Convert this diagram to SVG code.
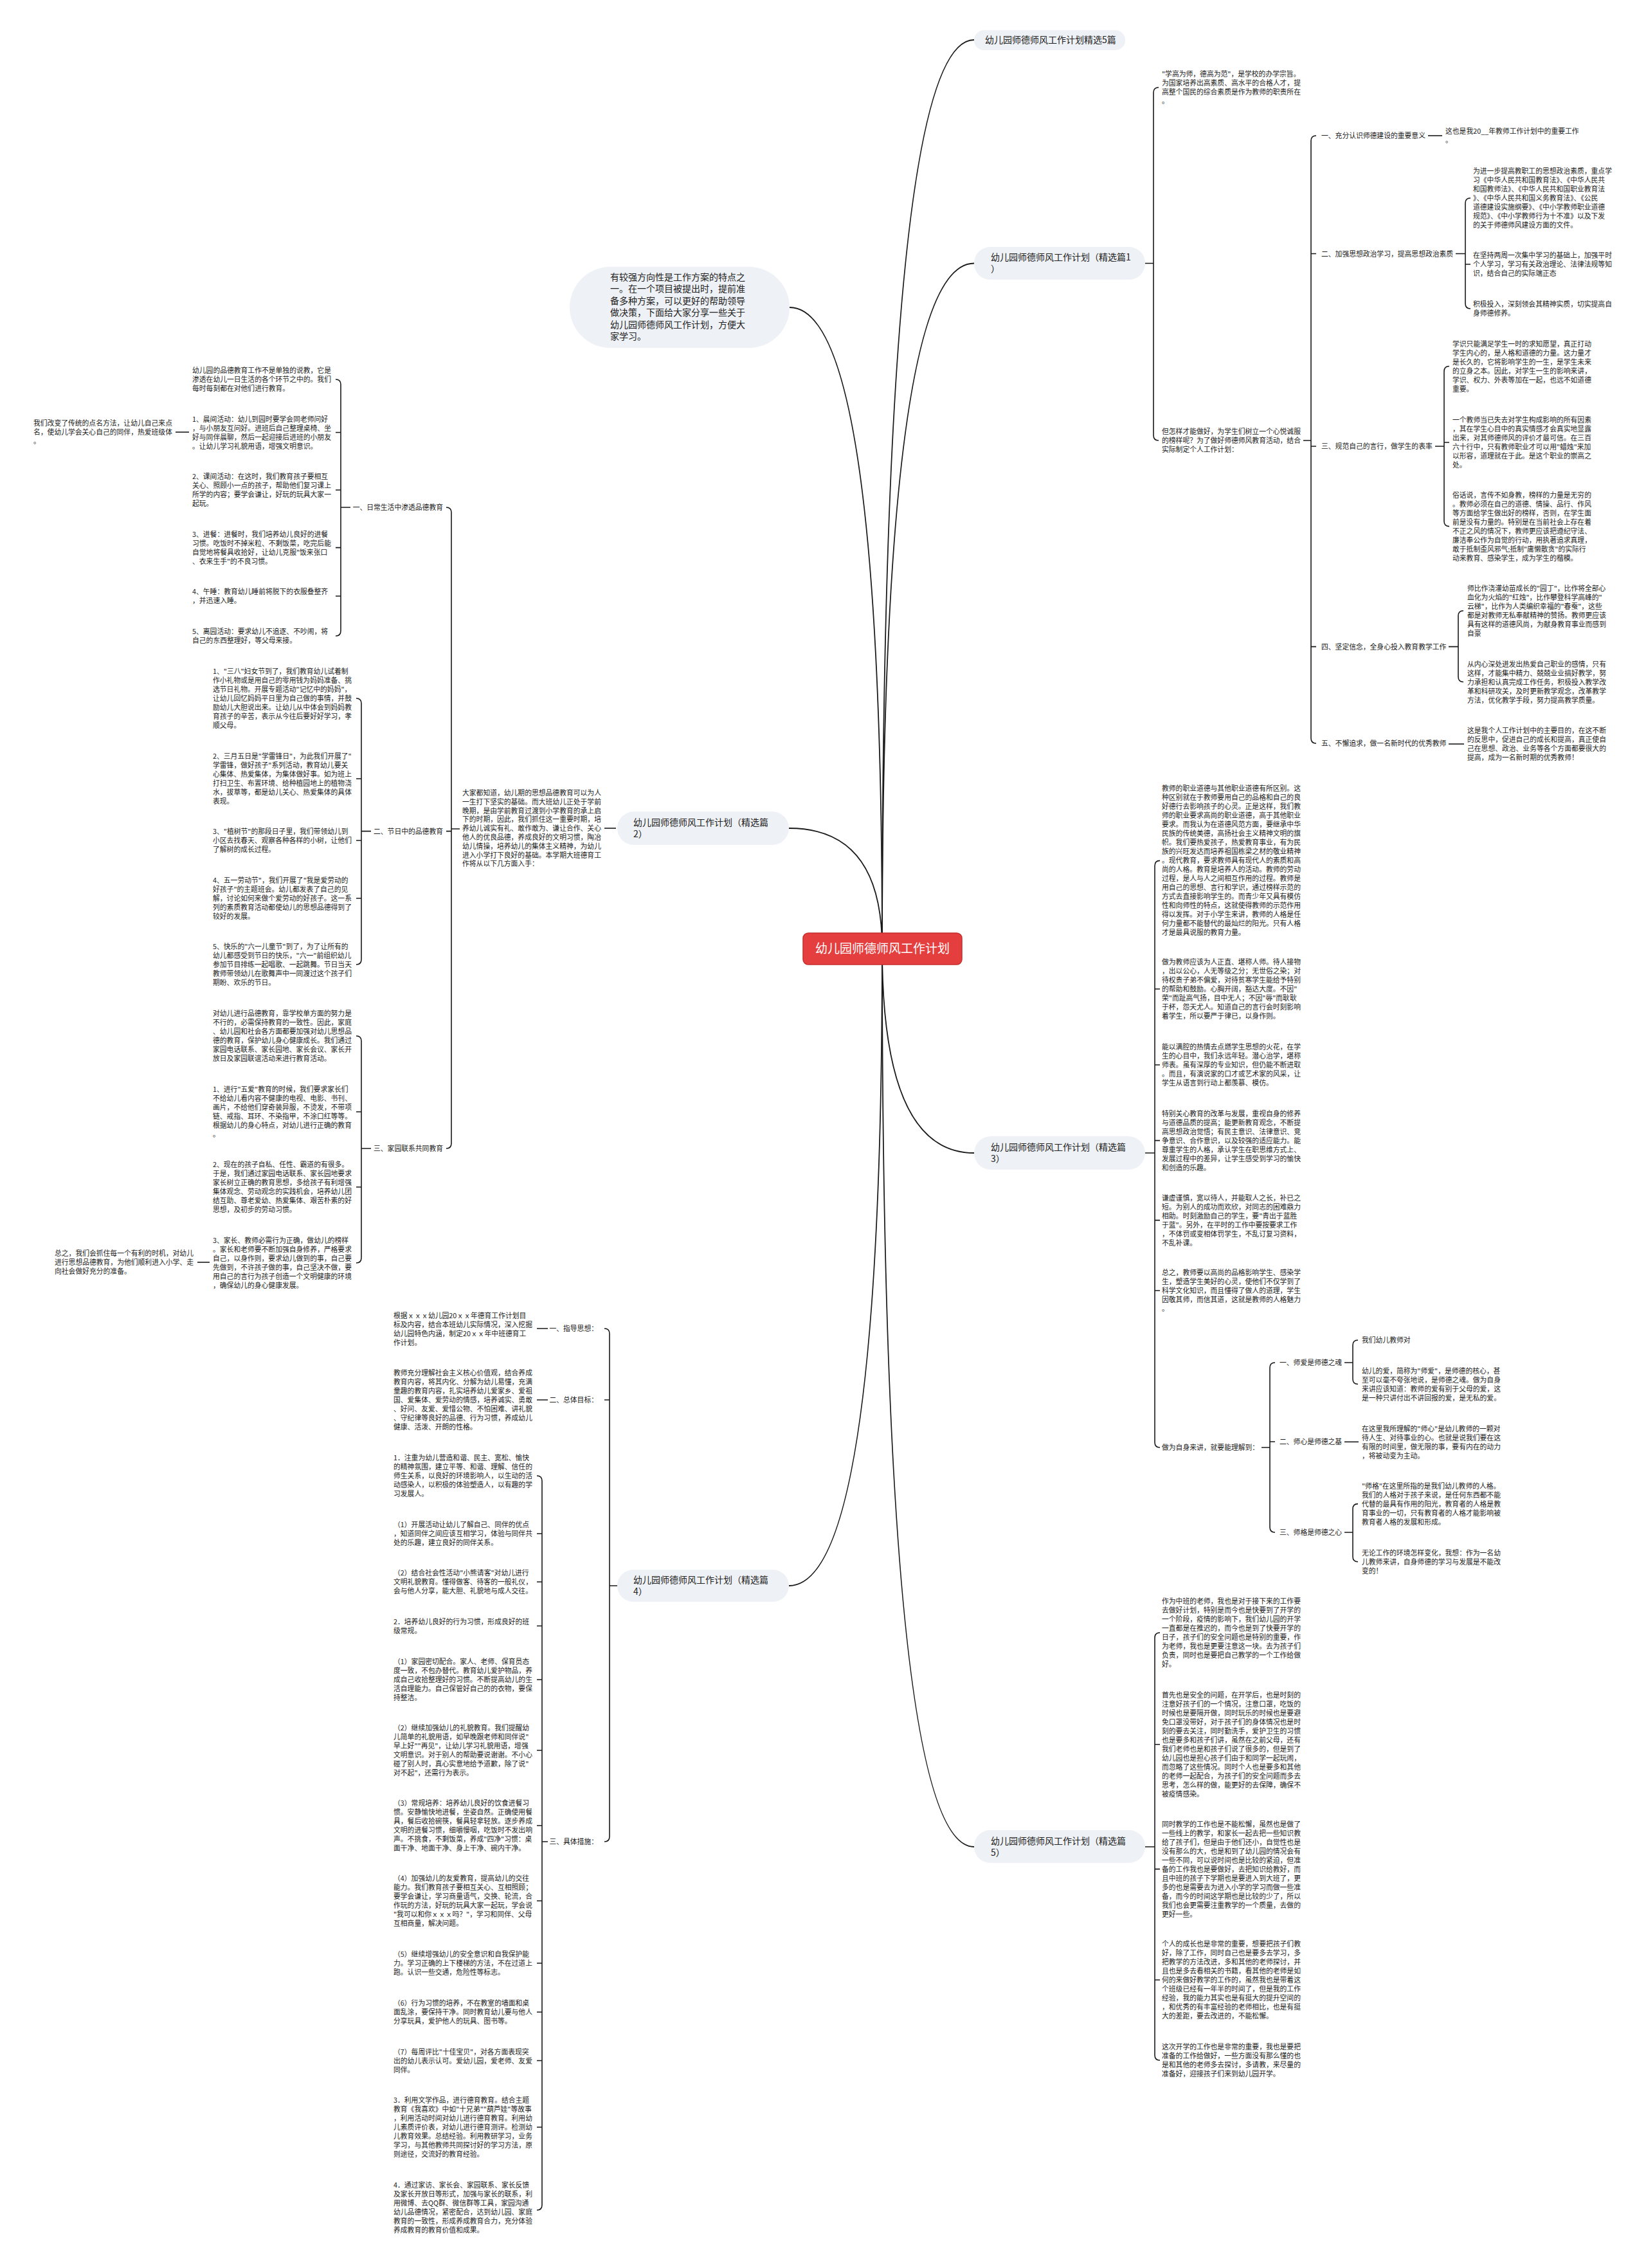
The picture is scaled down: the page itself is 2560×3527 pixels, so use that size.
<svg xmlns="http://www.w3.org/2000/svg" width="2560" height="3527" viewBox="0 0 2560 3527">
<style>
.t{font-family:"Noto Sans CJK SC","Noto Sans",sans-serif;font-size:10.8px;fill:#222}
.n{font-family:"Noto Sans CJK SC","Noto Sans",sans-serif;font-size:14px;fill:#222}
.r{font-family:"Noto Sans CJK SC","Noto Sans",sans-serif;font-size:19px;fill:#fff}
.ln{fill:none;stroke:#1a1a1a;stroke-width:1.6}
.cv{fill:none;stroke:#1a1a1a;stroke-width:1.8}
.bub{fill:#EEF1F5}
</style>
<rect width="2560" height="3527" fill="#fff"/>
<g id="connectors">
<path class="cv" d="M1372,1475 Q1372,62 1515,62"/>
<path class="cv" d="M1372,1475 Q1372,409.5 1515,409.5"/>
<path class="cv" d="M1372,1475 Q1372,1793 1515,1793"/>
<path class="cv" d="M1372,1475 Q1372,2872 1515,2872"/>
<path class="cv" d="M1372,1475 Q1372,478 1228,478"/>
<path class="cv" d="M1372,1475 Q1372,1288 1227,1288"/>
<path class="cv" d="M1372,1475 Q1372,2466 1227,2466"/>
<path class="ln" d="M1802,136 Q1794,136 1794,144 L1794,677 Q1794,685 1802,685 M1781,409.5 L1794,409.5"/>
<path class="ln" d="M2047,211 Q2039,211 2039,219 L2039,1148 Q2039,1156 2047,1156 M2039,394.5 L2047,394.5 M2039,694 L2047,694 M2039,1005.6 L2047,1005.6 M2027,685 L2039,685"/>
<path class="ln" d="M2221,211 L2243,211"/>
<path class="ln" d="M2287,308 Q2279,308 2279,316 L2279,472 Q2279,480 2287,480 M2279,411 L2287,411 M2264,394.5 L2279,394.5"/>
<path class="ln" d="M2254,569.5 Q2246,569.5 2246,577.5 L2246,810.6 Q2246,818.6 2254,818.6 M2246,688 L2254,688 M2232,694 L2246,694"/>
<path class="ln" d="M2276,949.7 Q2268,949.7 2268,957.7 L2268,1052.5 Q2268,1060.5 2276,1060.5 M2253,1005.6 L2268,1005.6"/>
<path class="ln" d="M2253,1157 L2277,1157"/>
<path class="ln" d="M1804,1338.4 Q1796,1338.4 1796,1346.4 L1796,2243 Q1796,2251 1804,2251 M1796,1538 L1804,1538 M1796,1656 L1804,1656 M1796,1773.6 L1804,1773.6 M1796,1897.6 L1804,1897.6 M1796,2007 L1804,2007 M1781,1793 L1796,1793"/>
<path class="ln" d="M1983,2119 Q1975,2119 1975,2127 L1975,2375 Q1975,2383 1983,2383 M1975,2242 L1983,2242 M1962,2251 L1975,2251"/>
<path class="ln" d="M2112,2084 Q2104,2084 2104,2092 L2104,2144.5 Q2104,2152.5 2112,2152.5 M2091,2119 L2104,2119"/>
<path class="ln" d="M2091,2242.3 L2113,2242.3"/>
<path class="ln" d="M2112,2338.6 Q2104,2338.6 2104,2346.6 L2104,2420.8 Q2104,2428.8 2112,2428.8 M2091,2383 L2104,2383"/>
<path class="ln" d="M1804,2539 Q1796,2539 1796,2547 L1796,3196 Q1796,3204 1804,3204 M1796,2712.7 L1804,2712.7 M1796,2906.6 L1804,2906.6 M1796,3079 L1804,3079 M1781,2872 L1796,2872"/>
<path class="ln" d="M958,1288 L940,1288"/>
<path class="ln" d="M694,789 Q702,789 702,797 L702,1778 Q702,1786 694,1786 M702,1292.6 L694,1292.6 M715,1289 L702,1289"/>
<path class="ln" d="M522,590 Q530,590 530,598 L530,981 Q530,989 522,989 M530,672.5 L522,672.5 M530,762 L522,762 M530,851.6 L522,851.6 M530,927 L522,927 M545,789 L530,789"/>
<path class="ln" d="M294,672 L273,672"/>
<path class="ln" d="M554,1086 Q562,1086 562,1094 L562,1492 Q562,1500 554,1500 M562,1211 L554,1211 M562,1307 L554,1307 M562,1397 L554,1397 M577,1292.6 L562,1292.6"/>
<path class="ln" d="M554,1611 Q562,1611 562,1619 L562,1956 Q562,1964 554,1964 M562,1729 L554,1729 M562,1846 L554,1846 M577,1786 L562,1786"/>
<path class="ln" d="M326,1963 L307,1963"/>
<path class="ln" d="M940,2066 Q948,2066 948,2074 L948,2856 Q948,2864 940,2864 M948,2177 L940,2177 M960,2466 L948,2466"/>
<path class="ln" d="M852,2066 L835,2066 M852,2177 L835,2177"/>
<path class="ln" d="M835,2295 Q843,2295 843,2303 L843,3429 Q843,3437 835,3437 M843,2385 L835,2385 M843,2460 L835,2460 M843,2528.5 L835,2528.5 M843,2612 L835,2612 M843,2722 L835,2722 M843,2839 L835,2839 M843,2956 L835,2956 M843,3053 L835,3053 M843,3129 L835,3129 M843,3204.5 L835,3204.5 M843,3308 L835,3308 M852,2864 L843,2864"/>
</g>
<g id="root">
<rect x="1249" y="1451" width="247" height="49" rx="8" fill="#E53E3E" stroke="#C62E2E" stroke-width="1.5"/>
<text class="r" x="1372.5" y="1482" text-anchor="middle">幼儿园师德师风工作计划</text>
</g>
<g id="intro">
<rect class="bub" x="886" y="415" width="342" height="126" rx="63"/>
<text class="n"><tspan x="949" y="436">有较强方向性是工作方案的特点之</tspan><tspan x="949" dy="18.4">一。在一个项目被提出时，提前准</tspan><tspan x="949" dy="18.4">备多种方案，可以更好的帮助领导</tspan><tspan x="949" dy="18.4">做决策，下面给大家分享一些关于</tspan><tspan x="949" dy="18.4">幼儿园师德师风工作计划，方便大</tspan><tspan x="949" dy="18.4">家学习。</tspan></text>
</g>
<g id="n-5p">
<rect class="bub" x="1515" y="47" width="235" height="31" rx="15"/>
<text class="n" x="1532" y="67">幼儿园师德师风工作计划精选5篇</text>
</g>
<g id="n-p1">
<rect class="bub" x="1515" y="384" width="266" height="51" rx="25"/>
<text class="n"><tspan x="1541" y="405">幼儿园师德师风工作计划（精选篇1</tspan><tspan x="1541" dy="18">）</tspan></text>
</g>
<g id="p1-children">
<text class="t"><tspan x="1807" y="119">"学高为师，德高为范"，是学校的办学宗旨。</tspan><tspan x="1807" dy="14">为国家培养出高素质、高水平的合格人才，提</tspan><tspan x="1807" dy="14">高整个国民的综合素质是作为教师的职责所在</tspan><tspan x="1807" dy="14">。</tspan></text>
<text class="t"><tspan x="1807" y="675">但怎样才能做好，为学生们树立一个心悦诚服</tspan><tspan x="1807" dy="14">的榜样呢？为了做好师德师风教育活动，结合</tspan><tspan x="1807" dy="14">实际制定个人工作计划：</tspan></text>
<text class="t" x="2055" y="215">一、充分认识师德建设的重要意义</text>
<text class="t" x="2055" y="399">二、加强思想政治学习，提高思想政治素质</text>
<text class="t" x="2055" y="698">三、规范自己的言行，做学生的表率</text>
<text class="t" x="2055" y="1010">四、坚定信念，全身心投入教育教学工作</text>
<text class="t" x="2055" y="1160">五、不懈追求，做一名新时代的优秀教师</text>
<text class="t"><tspan x="2248" y="208">这也是我20__年教师工作计划中的重要工作</tspan><tspan x="2248" dy="14">。</tspan></text>
<text class="t"><tspan x="2291" y="270">为进一步提高教职工的思想政治素质，重点学</tspan><tspan x="2291" dy="14">习《中华人民共和国教育法》、《中华人民共</tspan><tspan x="2291" dy="14">和国教师法》、《中华人民共和国职业教育法</tspan><tspan x="2291" dy="14">》、《中华人民共和国义务教育法》、《公民</tspan><tspan x="2291" dy="14">道德建设实施纲要》、《中小学教师职业道德</tspan><tspan x="2291" dy="14">规范》、《中小学教师行为十不准》以及下发</tspan><tspan x="2291" dy="14">的关于师德师风建设方面的文件。</tspan></text>
<text class="t"><tspan x="2291" y="401">在坚持两周一次集中学习的基础上，加强平时</tspan><tspan x="2291" dy="14">个人学习，学习有关政治理论、法律法规等知</tspan><tspan x="2291" dy="14">识，结合自己的实际端正态</tspan></text>
<text class="t"><tspan x="2291" y="477">积极投入，深刻领会其精神实质，切实提高自</tspan><tspan x="2291" dy="14">身师德修养。</tspan></text>
<text class="t"><tspan x="2259" y="538.5">学识只能满足学生一时的求知愿望，真正打动</tspan><tspan x="2259" dy="14">学生内心的，是人格和道德的力量。这力量才</tspan><tspan x="2259" dy="14">是长久的，它将影响学生的一生，是学生未来</tspan><tspan x="2259" dy="14">的立身之本。因此，对学生一生的影响来讲，</tspan><tspan x="2259" dy="14">学识、权力、外表等加在一起，也远不如道德</tspan><tspan x="2259" dy="14">重要。</tspan></text>
<text class="t"><tspan x="2259" y="657">一个教师当已失去对学生构成影响的所有因素</tspan><tspan x="2259" dy="14">，其在学生心目中的真实情感才会真实地显露</tspan><tspan x="2259" dy="14">出来，对其师德师风的评价才最可信。在三百</tspan><tspan x="2259" dy="14">六十行中，只有教师职业才可以用"蜡烛"来加</tspan><tspan x="2259" dy="14">以形容，道理就在于此。是这个职业的崇高之</tspan><tspan x="2259" dy="14">处。</tspan></text>
<text class="t"><tspan x="2259" y="773.6">俗话说，言传不如身教，榜样的力量是无穷的</tspan><tspan x="2259" dy="14">。教师必须在自己的道德、情操、品行、作风</tspan><tspan x="2259" dy="14">等方面给学生做出好的榜样，否则，在学生面</tspan><tspan x="2259" dy="14">前是没有力量的。特别是在当前社会上存在着</tspan><tspan x="2259" dy="14">不正之风的情况下，教师更应该把遵纪守法、</tspan><tspan x="2259" dy="14">廉洁奉公作为自觉的行动，用执著追求真理，</tspan><tspan x="2259" dy="14">敢于抵制歪风邪气;抵制"庸懒散贪"的实际行</tspan><tspan x="2259" dy="14">动来教育、感染学生，成为学生的楷模。</tspan></text>
<text class="t"><tspan x="2282" y="918.7">师比作浇灌幼苗成长的"园丁"，比作将全部心</tspan><tspan x="2282" dy="14">血化为火焰的"红烛"，比作攀登科学高峰的"</tspan><tspan x="2282" dy="14">云梯"，比作为人类编织幸福的"春蚕"，这些</tspan><tspan x="2282" dy="14">都是对教师无私奉献精神的赞扬。教师更应该</tspan><tspan x="2282" dy="14">具有这样的道德风尚，为献身教育事业而感到</tspan><tspan x="2282" dy="14">自豪</tspan></text>
<text class="t"><tspan x="2282" y="1036.5">从内心深处迸发出热爱自己职业的感情，只有</tspan><tspan x="2282" dy="14">这样，才能集中精力、兢兢业业搞好教学，努</tspan><tspan x="2282" dy="14">力承担和认真完成工作任务，积极投入教学改</tspan><tspan x="2282" dy="14">革和科研攻关，及时更新教学观念，改革教学</tspan><tspan x="2282" dy="14">方法，优化教学手段，努力提高教学质量。</tspan></text>
<text class="t"><tspan x="2282" y="1140">这是我个人工作计划中的主要目的，在这不断</tspan><tspan x="2282" dy="14">的反思中，促进自己的成长和提高，真正使自</tspan><tspan x="2282" dy="14">己在思想、政治、业务等各个方面都要很大的</tspan><tspan x="2282" dy="14">提高，成为一名新时期的优秀教师！</tspan></text>
</g>
<g id="n-p3">
<rect class="bub" x="1515" y="1767" width="266" height="52" rx="26"/>
<text class="n"><tspan x="1541" y="1789">幼儿园师德师风工作计划（精选篇</tspan><tspan x="1541" dy="18">3）</tspan></text>
</g>
<g id="p3-children">
<text class="t"><tspan x="1807" y="1230.4">教师的职业道德与其他职业道德有所区别。这</tspan><tspan x="1807" dy="14">种区别就在于教师要用自己的品格和自己的良</tspan><tspan x="1807" dy="14">好德行去影响孩子的心灵。正是这样，我们教</tspan><tspan x="1807" dy="14">师的职业要求高尚的职业道德，高于其他职业</tspan><tspan x="1807" dy="14">要求。而我认为在道德风范方面，要继承中华</tspan><tspan x="1807" dy="14">民族的传统美德，高扬社会主义精神文明的旗</tspan><tspan x="1807" dy="14">帜。我们要热爱孩子，热爱教育事业，有为民</tspan><tspan x="1807" dy="14">族的兴旺发达而培养祖国栋梁之材的敬业精神</tspan><tspan x="1807" dy="14">。现代教育，要求教师具有现代人的素质和高</tspan><tspan x="1807" dy="14">尚的人格。教育是培养人的活动。教师的劳动</tspan><tspan x="1807" dy="14">过程，是人与人之间相互作用的过程。教师是</tspan><tspan x="1807" dy="14">用自己的思想、言行和学识，通过榜样示范的</tspan><tspan x="1807" dy="14">方式去直接影响学生的。而青少年又具有模仿</tspan><tspan x="1807" dy="14">性和向师性的特点，这就使得教师的示范作用</tspan><tspan x="1807" dy="14">得以发挥。对于小学生来讲，教师的人格是任</tspan><tspan x="1807" dy="14">何力量都不能替代的最灿烂的阳光。只有人格</tspan><tspan x="1807" dy="14">才是最具说服的教育力量。</tspan></text>
<text class="t"><tspan x="1807" y="1500">做为教师应该为人正直、堪称人师。待人接物</tspan><tspan x="1807" dy="14">，出以公心，人无等级之分；无世俗之染；对</tspan><tspan x="1807" dy="14">待权贵子弟不偏爱，对待贫寒学生能给予特别</tspan><tspan x="1807" dy="14">的帮助和鼓励。心胸开阔，豁达大度。不因"</tspan><tspan x="1807" dy="14">荣"而趾高气扬，目中无人；不因"辱"而耿耿</tspan><tspan x="1807" dy="14">于杯，怨天尤人。知道自己的言行会时刻影响</tspan><tspan x="1807" dy="14">着学生，所以要严于律已，以身作则。</tspan></text>
<text class="t"><tspan x="1807" y="1632">能以满腔的热情去点燃学生思想的火花，在学</tspan><tspan x="1807" dy="14">生的心目中，我们永远年轻。潜心治学，堪称</tspan><tspan x="1807" dy="14">师表。虽有深厚的专业知识，但仍能不断进取</tspan><tspan x="1807" dy="14">。而且，有演说家的口才或艺术家的风采，让</tspan><tspan x="1807" dy="14">学生从语言到行动上都羡慕、模仿。</tspan></text>
<text class="t"><tspan x="1807" y="1735.6">特别关心教育的改革与发展，重视自身的修养</tspan><tspan x="1807" dy="14">与道德品质的提高；能更新教育观念，不断提</tspan><tspan x="1807" dy="14">高思想政治觉悟；有民主意识、法律意识、竞</tspan><tspan x="1807" dy="14">争意识、合作意识，以及较强的适应能力。能</tspan><tspan x="1807" dy="14">尊重学生的人格，承认学生在职思维方式上、</tspan><tspan x="1807" dy="14">发展过程中的差异，让学生感受到学习的愉快</tspan><tspan x="1807" dy="14">和创造的乐趣。</tspan></text>
<text class="t"><tspan x="1807" y="1866.6">谦虚谨慎，宽以待人，并能取人之长，补已之</tspan><tspan x="1807" dy="14">短。为别人的成功而欢欣，对同志的困难鼎力</tspan><tspan x="1807" dy="14">相助。时刻激励自己的学生，要"青出于蓝胜</tspan><tspan x="1807" dy="14">于蓝"。另外，在平时的工作中要按要求工作</tspan><tspan x="1807" dy="14">，不体罚或变相体罚学生，不乱订复习资料，</tspan><tspan x="1807" dy="14">不乱补课。</tspan></text>
<text class="t"><tspan x="1807" y="1983">总之，教师要以高尚的品格影响学生、感染学</tspan><tspan x="1807" dy="14">生，塑造学生美好的心灵，使他们不仅学到了</tspan><tspan x="1807" dy="14">科学文化知识，而且懂得了做人的道理，学生</tspan><tspan x="1807" dy="14">因敬其师，而信其道，这就是教师的人格魅力</tspan><tspan x="1807" dy="14">。</tspan></text>
<text class="t" x="1807" y="2255">做为自身来讲，就要能理解到：</text>
<text class="t" x="1990" y="2123">一、师爱是师德之魂</text>
<text class="t" x="1990" y="2246">二、师心是师德之基</text>
<text class="t" x="1990" y="2387">三、师格是师德之心</text>
<text class="t" x="2118" y="2088">我们幼儿教师对</text>
<text class="t"><tspan x="2118" y="2135.5">幼儿的爱，简称为"师爱"，是师德的核心，甚</tspan><tspan x="2118" dy="14">至可以毫不夸张地说，是师德之魂。做为自身</tspan><tspan x="2118" dy="14">来讲应该知道：教师的爱有别于父母的爱，这</tspan><tspan x="2118" dy="14">是一种只讲付出不讲回报的爱，是无私的爱。</tspan></text>
<text class="t"><tspan x="2118" y="2225.6">在这里我所理解的"师心"是幼儿教师的一颗对</tspan><tspan x="2118" dy="14">待人生、对待事业的心。也就是说我们要在这</tspan><tspan x="2118" dy="14">有限的时间里，做无限的事，要有内在的动力</tspan><tspan x="2118" dy="14">，将被动变为主动。</tspan></text>
<text class="t"><tspan x="2118" y="2314.6">"师格"在这里所指的是我们幼儿教师的人格。</tspan><tspan x="2118" dy="14">我们的人格对于孩子来说，是任何东西都不能</tspan><tspan x="2118" dy="14">代替的最具有作用的阳光，教育者的人格是教</tspan><tspan x="2118" dy="14">育事业的一切，只有教育者的人格才能影响被</tspan><tspan x="2118" dy="14">教育者人格的发展和形成。</tspan></text>
<text class="t"><tspan x="2118" y="2418.8">无论工作的环境怎样变化，我想：作为一名幼</tspan><tspan x="2118" dy="14">儿教师来讲，自身师德的学习与发展是不能改</tspan><tspan x="2118" dy="14">变的！</tspan></text>
</g>
<g id="n-p5">
<rect class="bub" x="1515" y="2846" width="266" height="51" rx="25"/>
<text class="n"><tspan x="1541" y="2868">幼儿园师德师风工作计划（精选篇</tspan><tspan x="1541" dy="18">5）</tspan></text>
</g>
<g id="p5-children">
<text class="t"><tspan x="1807" y="2494">作为中班的老师，我也是对于接下来的工作要</tspan><tspan x="1807" dy="14">去做好计划，特别是而今也是快要到了开学的</tspan><tspan x="1807" dy="14">一个阶段，疫情的影响下，我们幼儿园的开学</tspan><tspan x="1807" dy="14">一直都是在推迟的，而今也是到了快要开学的</tspan><tspan x="1807" dy="14">日子，孩子们的安全问题也是特别的重要，作</tspan><tspan x="1807" dy="14">为老师，我也是更要注意这一块。去为孩子们</tspan><tspan x="1807" dy="14">负责，同时也是要把自己教学的一个工作给做</tspan><tspan x="1807" dy="14">好。</tspan></text>
<text class="t"><tspan x="1807" y="2639.7">首先也是安全的问题，在开学后，也是时刻的</tspan><tspan x="1807" dy="14">注意好孩子们的一个情况，注意口罩，吃饭的</tspan><tspan x="1807" dy="14">时候也是要隔开做，同时玩乐的时候也是要避</tspan><tspan x="1807" dy="14">免口罩没带好，对于孩子们的身体情况也是时</tspan><tspan x="1807" dy="14">刻的要去关注，同时勤洗手，爱护卫生的习惯</tspan><tspan x="1807" dy="14">也是要多和孩子们讲，虽然在之前父母，还有</tspan><tspan x="1807" dy="14">我们老师也是和孩子们说了很多的，但是到了</tspan><tspan x="1807" dy="14">幼儿园也是担心孩子们由于和同学一起玩闹，</tspan><tspan x="1807" dy="14">而忽略了这些情况。同时个人也是要多和其他</tspan><tspan x="1807" dy="14">的老师一起配合，为孩子们的安全问题而多去</tspan><tspan x="1807" dy="14">思考，怎么样的做，能更好的去保障，确保不</tspan><tspan x="1807" dy="14">被疫情感染。</tspan></text>
<text class="t"><tspan x="1807" y="2840.6">同时教学的工作也是不能松懈，虽然也是做了</tspan><tspan x="1807" dy="14">一些线上的教学，和家长一起去把一些知识教</tspan><tspan x="1807" dy="14">给了孩子们，但是由于他们还小，自觉性也是</tspan><tspan x="1807" dy="14">没有那么的大，也是和到了幼儿园的情况会有</tspan><tspan x="1807" dy="14">一些不同，可以说时间也是比较的紧迫，但准</tspan><tspan x="1807" dy="14">备的工作我也是要做好，去把知识给教好，而</tspan><tspan x="1807" dy="14">且中班的孩子下学期也是要进入到大班了，更</tspan><tspan x="1807" dy="14">多的也是需要去为进入小学的学习而做一些准</tspan><tspan x="1807" dy="14">备，而今的时间这学期也是比较的少了，所以</tspan><tspan x="1807" dy="14">我们也会更需要注重教学的一个质量，去做的</tspan><tspan x="1807" dy="14">更好一些。</tspan></text>
<text class="t"><tspan x="1807" y="3027">个人的成长也是非常的重要，想要把孩子们教</tspan><tspan x="1807" dy="14">好，除了工作，同时自己也是要多去学习，多</tspan><tspan x="1807" dy="14">把教学的方法改进，多和其他的老师探讨，并</tspan><tspan x="1807" dy="14">且也是多去看相关的书籍，看其他的老师是如</tspan><tspan x="1807" dy="14">何的来做好教学的工作的，虽然我也是带着这</tspan><tspan x="1807" dy="14">个班级已经有一年半的时间了，但是我的工作</tspan><tspan x="1807" dy="14">经验，我的能力其实也是有挺大的提升空间的</tspan><tspan x="1807" dy="14">，和优秀的有丰富经验的老师相比，也是有挺</tspan><tspan x="1807" dy="14">大的差距，要去改进的，不能松懈。</tspan></text>
<text class="t"><tspan x="1807" y="3187">这次开学的工作也是非常的重要，我也是要把</tspan><tspan x="1807" dy="14">准备的工作给做好，一些方面没有那么懂的也</tspan><tspan x="1807" dy="14">是和其他的老师多去探讨，多请教，来尽量的</tspan><tspan x="1807" dy="14">准备好，迎接孩子们来到幼儿园开学。</tspan></text>
</g>
<g id="n-p2">
<rect class="bub" x="960" y="1262" width="267" height="52" rx="26"/>
<text class="n"><tspan x="985" y="1284">幼儿园师德师风工作计划（精选篇</tspan><tspan x="985" dy="18">2）</tspan></text>
</g>
<g id="p2-children">
<text class="t"><tspan x="719" y="1237">大家都知道，幼儿期的思想品德教育可以为人</tspan><tspan x="719" dy="13.8">一生打下坚实的基础。而大班幼儿正处于学前</tspan><tspan x="719" dy="13.8">晚期，是由学前教育过渡到小学教育的承上启</tspan><tspan x="719" dy="13.8">下的时期，因此，我们抓住这一重要时期，培</tspan><tspan x="719" dy="13.8">养幼儿诚实有礼、敢作敢为、谦让合作、关心</tspan><tspan x="719" dy="13.8">他人的优良品德，养成良好的文明习惯，陶冶</tspan><tspan x="719" dy="13.8">幼儿情操，培养幼儿的集体主义精神，为幼儿</tspan><tspan x="719" dy="13.8">进入小学打下良好的基础。本学期大班德育工</tspan><tspan x="719" dy="13.8">作将从以下几方面入手：</tspan></text>
<text class="t" x="689" y="793" text-anchor="end">一、日常生活中渗透品德教育</text>
<text class="t" x="689" y="1296.6" text-anchor="end">二、节日中的品德教育</text>
<text class="t" x="689" y="1790" text-anchor="end">三、家园联系共同教育</text>
<text class="t"><tspan x="299" y="580">幼儿园的品德教育工作不是单独的说教，它是</tspan><tspan x="299" dy="14">渗透在幼儿一日生活的各个环节之中的。我们</tspan><tspan x="299" dy="14">每时每刻都在对他们进行教育。</tspan></text>
<text class="t"><tspan x="299" y="655.5">1、晨间活动：幼儿到园时要学会同老师问好</tspan><tspan x="299" dy="14">，与小朋友互问好。进班后自己整理桌椅、坐</tspan><tspan x="299" dy="14">好与同伴晨聊，然后一起迎接后进班的小朋友</tspan><tspan x="299" dy="14">。让幼儿学习礼貌用语，增强文明意识。</tspan></text>
<text class="t"><tspan x="52" y="662">我们改变了传统的点名方法，让幼儿自己来点</tspan><tspan x="52" dy="14">名，使幼儿学会关心自己的同伴，热爱班级体</tspan><tspan x="52" dy="14">。</tspan></text>
<text class="t"><tspan x="299" y="745">2、课间活动：在这时，我们教育孩子要相互</tspan><tspan x="299" dy="14">关心、照顾小一点的孩子，帮助他们复习课上</tspan><tspan x="299" dy="14">所学的内容；要学会谦让，好玩的玩具大家一</tspan><tspan x="299" dy="14">起玩。</tspan></text>
<text class="t"><tspan x="299" y="834.6">3、进餐：进餐时，我们培养幼儿良好的进餐</tspan><tspan x="299" dy="14">习惯。吃饭时不掉米粒、不剩饭菜，吃完后能</tspan><tspan x="299" dy="14">自觉地将餐具收拾好，让幼儿克服"饭来张口</tspan><tspan x="299" dy="14">、衣来生手"的不良习惯。</tspan></text>
<text class="t"><tspan x="299" y="924">4、午睡：教育幼儿睡前将脱下的衣服叠整齐</tspan><tspan x="299" dy="14">，并迅速入睡。</tspan></text>
<text class="t"><tspan x="299" y="986">5、离园活动：要求幼儿不追逐、不吵闹，将</tspan><tspan x="299" dy="14">自己的东西整理好，等父母来接。</tspan></text>
<text class="t"><tspan x="331" y="1048">1、"三八"妇女节到了，我们教育幼儿试着制</tspan><tspan x="331" dy="14">作小礼物或是用自己的零用钱为妈妈准备、挑</tspan><tspan x="331" dy="14">选节日礼物。开展专题活动"记忆中的妈妈"，</tspan><tspan x="331" dy="14">让幼儿回忆妈妈平日里为自己做的事情，并鼓</tspan><tspan x="331" dy="14">励幼儿大胆说出来。让幼儿从中体会到妈妈教</tspan><tspan x="331" dy="14">育孩子的辛苦，表示从今往后要好好学习，孝</tspan><tspan x="331" dy="14">顺父母。</tspan></text>
<text class="t"><tspan x="331" y="1180">2、三月五日是"学雷锋日"，为此我们开展了"</tspan><tspan x="331" dy="14">学雷锋，做好孩子"系列活动，教育幼儿要关</tspan><tspan x="331" dy="14">心集体、热爱集体，为集体做好事。如为班上</tspan><tspan x="331" dy="14">打扫卫生、布置环境、给种植园地上的植物浇</tspan><tspan x="331" dy="14">水，拔草等，都是幼儿关心、热爱集体的具体</tspan><tspan x="331" dy="14">表现。</tspan></text>
<text class="t"><tspan x="331" y="1297">3、"植树节"的那段日子里，我们带领幼儿到</tspan><tspan x="331" dy="14">小区去找春天、观察各种各样的小树，让他们</tspan><tspan x="331" dy="14">了解树的成长过程。</tspan></text>
<text class="t"><tspan x="331" y="1373">4、五一劳动节"，我们开展了"我是爱劳动的</tspan><tspan x="331" dy="14">好孩子"的主题班会。幼儿都发表了自己的见</tspan><tspan x="331" dy="14">解，讨论如何来做个爱劳动的好孩子。这一系</tspan><tspan x="331" dy="14">列的素质教育活动都使幼儿的思想品德得到了</tspan><tspan x="331" dy="14">较好的发展。</tspan></text>
<text class="t"><tspan x="331" y="1476">5、快乐的"六一儿童节"到了，为了让所有的</tspan><tspan x="331" dy="14">幼儿都感受到节日的快乐，"六一"前组织幼儿</tspan><tspan x="331" dy="14">参加节目排练一起唱歌、一起跳舞。节日当天</tspan><tspan x="331" dy="14">教师带领幼儿在歌舞声中一同渡过这个孩子们</tspan><tspan x="331" dy="14">期盼、欢乐的节日。</tspan></text>
<text class="t"><tspan x="331" y="1580">对幼儿进行品德教育，靠学校单方面的努力是</tspan><tspan x="331" dy="14">不行的，必需保持教育的一致性。因此，家庭</tspan><tspan x="331" dy="14">、幼儿园和社会各方面都要加强对幼儿思想品</tspan><tspan x="331" dy="14">德的教育，保护幼儿身心健康成长。我们通过</tspan><tspan x="331" dy="14">家园电话联系、家长园地、家长会议、家长开</tspan><tspan x="331" dy="14">放日及家园联谊活动来进行教育活动。</tspan></text>
<text class="t"><tspan x="331" y="1698">1、进行"五爱"教育的时候，我们要求家长们</tspan><tspan x="331" dy="14">不给幼儿看内容不健康的电视、电影、书刊、</tspan><tspan x="331" dy="14">画片，不给他们穿奇装异服，不烫发，不带项</tspan><tspan x="331" dy="14">链、戒指、耳环、不染指甲，不涂口红等等。</tspan><tspan x="331" dy="14">根据幼儿的身心特点，对幼儿进行正确的教育</tspan><tspan x="331" dy="14">。</tspan></text>
<text class="t"><tspan x="331" y="1815">2、现在的孩子自私、任性、霸道的有很多。</tspan><tspan x="331" dy="14">于是，我们通过家园电话联系、家长园地要求</tspan><tspan x="331" dy="14">家长树立正确的教育思想，多给孩子有利增强</tspan><tspan x="331" dy="14">集体观念、劳动观念的实践机会，培养幼儿团</tspan><tspan x="331" dy="14">结互助、尊老爱幼、热爱集体、艰苦朴素的好</tspan><tspan x="331" dy="14">思想，及初步的劳动习惯。</tspan></text>
<text class="t"><tspan x="331" y="1933">3、家长、教师必需行为正确，做幼儿的榜样</tspan><tspan x="331" dy="14">。家长和老师要不断加强自身修养，严格要求</tspan><tspan x="331" dy="14">自己，以身作则，要求幼儿做到的事，自己要</tspan><tspan x="331" dy="14">先做到，不许孩子做的事，自己坚决不做，要</tspan><tspan x="331" dy="14">用自己的言行为孩子创造一个文明健康的环境</tspan><tspan x="331" dy="14">，确保幼儿的身心健康发展。</tspan></text>
<text class="t"><tspan x="85" y="1953">总之，我们会抓住每一个有利的时机，对幼儿</tspan><tspan x="85" dy="14">进行思想品德教育，为他们顺利进入小学、走</tspan><tspan x="85" dy="14">向社会做好充分的准备。</tspan></text>
</g>
<g id="n-p4">
<rect class="bub" x="960" y="2441" width="267" height="50" rx="25"/>
<text class="n"><tspan x="985" y="2462">幼儿园师德师风工作计划（精选篇</tspan><tspan x="985" dy="18">4）</tspan></text>
</g>
<g id="p4-children">
<text class="t" x="930" y="2070" text-anchor="end">一、指导思想：</text>
<text class="t" x="930" y="2181" text-anchor="end">二、总体目标：</text>
<text class="t" x="930" y="2868" text-anchor="end">三、具体措施：</text>
<text class="t"><tspan x="612" y="2050">根据ｘｘｘ幼儿园20ｘｘ年德育工作计划目</tspan><tspan x="612" dy="14">标及内容，结合本班幼儿实际情况，深入挖掘</tspan><tspan x="612" dy="14">幼儿园特色内涵，制定20ｘｘ年中班德育工</tspan><tspan x="612" dy="14">作计划。</tspan></text>
<text class="t"><tspan x="612" y="2139">教师充分理解社会主义核心价值观，结合养成</tspan><tspan x="612" dy="14">教育内容，将其内化、分解为幼儿易懂，充满</tspan><tspan x="612" dy="14">童趣的教育内容，扎实培养幼儿爱家乡、爱祖</tspan><tspan x="612" dy="14">国、爱集体、爱劳动的情感，培养诚实、勇敢</tspan><tspan x="612" dy="14">、好问、友爱、爱惜公物、不怕困难、讲礼貌</tspan><tspan x="612" dy="14">、守纪律等良好的品德、行为习惯，养成幼儿</tspan><tspan x="612" dy="14">健康、活泼、开朗的性格。</tspan></text>
<text class="t"><tspan x="612" y="2271">1．注重为幼儿营造和谐、民主、宽松、愉快</tspan><tspan x="612" dy="14">的精神氛围，建立平等、和谐、理解、信任的</tspan><tspan x="612" dy="14">师生关系，以良好的环境影响人，以生动的活</tspan><tspan x="612" dy="14">动感染人，以积极的体验塑造人，以有趣的学</tspan><tspan x="612" dy="14">习发展人。</tspan></text>
<text class="t"><tspan x="612" y="2375">（1）开展活动让幼儿了解自己、同伴的优点</tspan><tspan x="612" dy="14">，知道同伴之间应该互相学习，体验与同伴共</tspan><tspan x="612" dy="14">处的乐趣，建立良好的同伴关系。</tspan></text>
<text class="t"><tspan x="612" y="2450">（2）结合社会性活动"小熊请客"对幼儿进行</tspan><tspan x="612" dy="14">文明礼貌教育。懂得做客、待客的一般礼仪，</tspan><tspan x="612" dy="14">会与他人分享，能大胆、礼貌地与成人交往。</tspan></text>
<text class="t"><tspan x="612" y="2525.5">2．培养幼儿良好的行为习惯，形成良好的班</tspan><tspan x="612" dy="14">级常规。</tspan></text>
<text class="t"><tspan x="612" y="2588">（1）家园密切配合。家人、老师、保育员态</tspan><tspan x="612" dy="14">度一致，不包办替代。教育幼儿爱护物品，养</tspan><tspan x="612" dy="14">成自己收拾整理好的习惯。不断提高幼儿的生</tspan><tspan x="612" dy="14">活自理能力。自己保管好自己的的衣物，要保</tspan><tspan x="612" dy="14">持整洁。</tspan></text>
<text class="t"><tspan x="612" y="2691">（2）继续加强幼儿的礼貌教育。我们提醒幼</tspan><tspan x="612" dy="14">儿简单的礼貌用语，如早晚跟老师和同伴说"</tspan><tspan x="612" dy="14">早上好""再见"，让幼儿学习礼貌用语，增强</tspan><tspan x="612" dy="14">文明意识。对于别人的帮助要说谢谢。不小心</tspan><tspan x="612" dy="14">碰了别人时，真心实意地给予道歉，除了说"</tspan><tspan x="612" dy="14">对不起"，还需行为表示。</tspan></text>
<text class="t"><tspan x="612" y="2808">（3）常规培养：培养幼儿良好的饮食进餐习</tspan><tspan x="612" dy="14">惯。安静愉快地进餐，坐姿自然。正确使用餐</tspan><tspan x="612" dy="14">具，餐后收拾碗筷，餐具轻拿轻放。逐步养成</tspan><tspan x="612" dy="14">文明的进餐习惯，细嚼慢咽，吃饭时不发出响</tspan><tspan x="612" dy="14">声。不挑食，不剩饭菜，养成"四净"习惯：桌</tspan><tspan x="612" dy="14">面干净、地面干净、身上干净、碗内干净。</tspan></text>
<text class="t"><tspan x="612" y="2925">（4）加强幼儿的友爱教育，提高幼儿的交往</tspan><tspan x="612" dy="14">能力。我们教育孩子要相互关心、互相照顾；</tspan><tspan x="612" dy="14">要学会谦让，学习商量语气，交换、轮流，合</tspan><tspan x="612" dy="14">作玩的方法，好玩的玩具大家一起玩，学会说</tspan><tspan x="612" dy="14">"我可以和你ｘｘｘ吗？"，学习和同伴、父母</tspan><tspan x="612" dy="14">互相商量，解决问题。</tspan></text>
<text class="t"><tspan x="612" y="3043">（5）继续增强幼儿的安全意识和自我保护能</tspan><tspan x="612" dy="14">力。学习正确的上下楼梯的方法，不在过道上</tspan><tspan x="612" dy="14">跑。认识一些交通，危险性等标志。</tspan></text>
<text class="t"><tspan x="612" y="3119">（6）行为习惯的培养，不在教室的墙面和桌</tspan><tspan x="612" dy="14">面乱涂，要保持干净。同时教育幼儿要与他人</tspan><tspan x="612" dy="14">分享玩具，爱护他人的玩具、图书等。</tspan></text>
<text class="t"><tspan x="612" y="3194.5">（7）每周评比"十佳宝贝"，对各方面表现突</tspan><tspan x="612" dy="14">出的幼儿表示认可。爱幼儿园，爱老师、友爱</tspan><tspan x="612" dy="14">同伴。</tspan></text>
<text class="t"><tspan x="612" y="3270">3．利用文学作品，进行德育教育。结合主题</tspan><tspan x="612" dy="14">教育《我喜欢》中如"十兄弟""葫芦娃"等故事</tspan><tspan x="612" dy="14">，利用活动时间对幼儿进行德育教育。利用幼</tspan><tspan x="612" dy="14">儿素质评价表，对幼儿进行德育测评。检测幼</tspan><tspan x="612" dy="14">儿教育效果。总结经验。利用教研学习，业务</tspan><tspan x="612" dy="14">学习，与其他教师共同探讨好的学习方法，原</tspan><tspan x="612" dy="14">则途径，交流好的教育经验。</tspan></text>
<text class="t"><tspan x="612" y="3402">4．通过家访、家长会、家园联系、家长反馈</tspan><tspan x="612" dy="14">及家长开放日等形式，加强与家长的联系，利</tspan><tspan x="612" dy="14">用微博、去QQ群、微信群等工具，家园沟通</tspan><tspan x="612" dy="14">幼儿品德情况，紧密配合，达到幼儿园、家庭</tspan><tspan x="612" dy="14">教育的一致性，形成养成教育合力，充分体验</tspan><tspan x="612" dy="14">养成教育的教育价值和成果。</tspan></text>
</g>
</svg>
